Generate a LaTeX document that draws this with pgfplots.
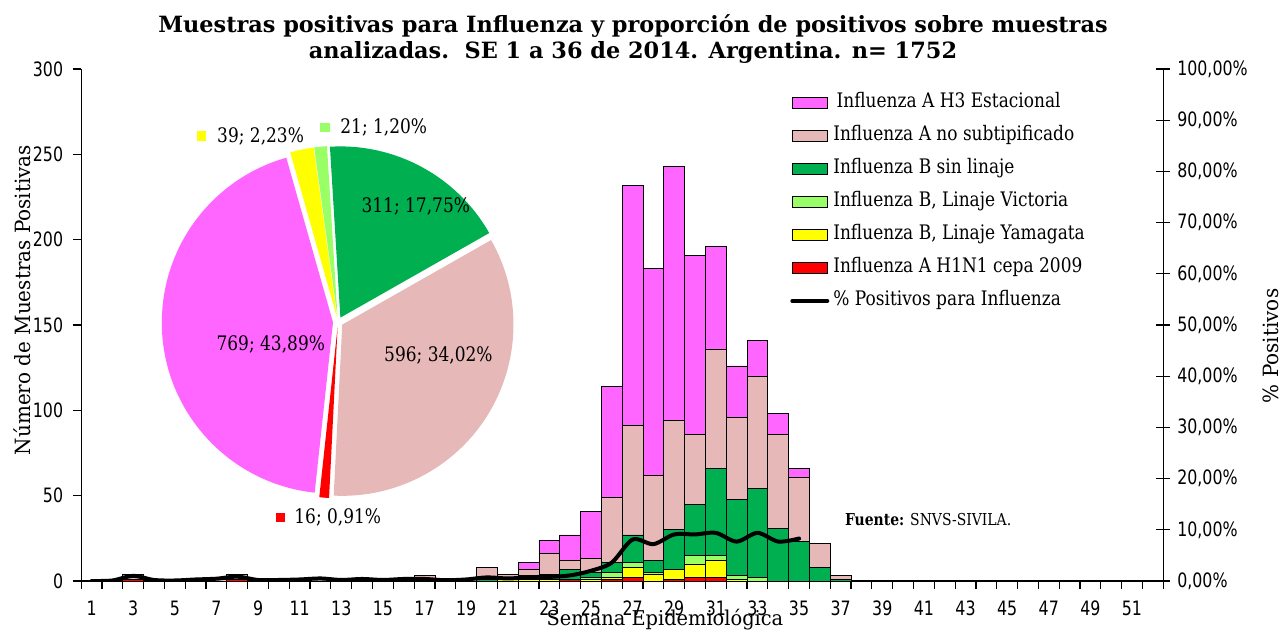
\documentclass[border=0pt]{standalone}
\usepackage{pgfplots}
\pgfplotsset{compat=1.18}
\usepackage{pgfplotstable}
\usepackage{fontspec}
\setmainfont{DejaVu Serif}[FakeStretch=0.85]
\newfontfamily\labf{DejaVu Serif}[FakeStretch=0.95]
\newfontfamily\ticksf{DejaVu Sans}[FakeStretch=0.8]
\newfontfamily\titlef{DejaVu Serif}

\definecolor{cH3}{HTML}{FF66FF}
\definecolor{cNS}{HTML}{E6B8B7}
\definecolor{cB}{HTML}{00B050}
\definecolor{cVic}{HTML}{99FF66}
\definecolor{cYam}{HTML}{FFFF00}
\definecolor{cH1}{HTML}{FF0000}

% weekly counts per type
\pgfplotstableread{
week h1 yam vic b ns h3
1 0 0 0 0 0 0
2 0 0 0 0 0 0
3 1 0 0 0 3 0
4 0 0 0 0 0 0
5 0 0 0 0 0 0
6 0 0 0 0 1 0
7 0 0 0 0 1 0
8 1 0 0 0 3 0
9 0 0 0 0 0 0
10 0 0 0 0 0 0
11 0 0 0 0 0 0
12 0 0 0 0 1 0
13 0 0 0 0 0 0
14 0 0 0 0 1 0
15 0 0 0 0 0 0
16 0 0 0 0 1 0
17 0 0 0 0 3 0
18 0 0 0 0 0 0
19 0 0 0 0 1 0
20 0 0 0 1 7 0
21 0 1 0 0 3 0
22 0 1 0 2 4 4
23 0 1 0 3 12 8
24 1 0 0 6 5 15
25 0 1 1 3 8 28
26 1 1 3 6 38 65
27 2 6 3 16 64 141
28 0 4 1 7 50 121
29 1 6 0 23 64 149
30 2 8 5 30 41 105
31 2 10 3 51 70 60
32 0 1 2 45 48 30
33 0 0 2 52 66 21
34 0 0 0 31 55 12
35 0 0 0 23 38 5
36 0 0 0 8 14 0
37 0 0 0 1 2 0
}\flu

% percent positives
\pgfplotstableread{
week pct
1 0.0
2 0.1
3 1.0
4 0.2
5 0.1
6 0.3
7 0.45
8 0.85
9 0.2
10 0.2
11 0.3
12 0.5
13 0.2
14 0.4
15 0.2
16 0.4
17 0.4
18 0.15
19 0.3
20 0.7
21 0.5
22 0.7
23 0.8
24 1.1
25 2.0
26 3.6
27 8.1
28 7.2
29 9.1
30 9.1
31 9.4
32 7.7
33 9.4
34 7.7
35 8.3
}\pos

\pgfplotsset{
  barleg/.style={legend image code/.code={\draw[##1, draw=black, line width=0.6pt] (0pt,-2.6pt) rectangle (17.5pt,2.6pt);}},
  lineleg/.style={legend image code/.code={\draw[##1] (0pt,0pt) -- (17.5pt,0pt);}},
}

\begin{document}
\begin{tikzpicture}
\begin{axis}[
  at={(40.6pt,26.5pt)}, anchor=south west,
  scale only axis, width=541pt, height=256pt,
  ybar stacked, bar width=1,
  xmin=0.5, xmax=52.5, ymin=0, ymax=300,
  axis x line*=bottom, axis y line*=left,
  axis line style={-, line width=0.6pt},
  xtick={1,3,...,51}, minor xtick={0.5,1.5,...,52.5},
  ytick={0,50,...,300},
  tick align=outside,
  major x tick style={draw=none},
  minor tick length=4pt, major tick length=4pt,
  tick style={black, line width=0.6pt},
  /pgf/number format/assume math mode=true,
  ticklabel style={font=\ticksf\fontsize{9.9}{11}\selectfont},
  xticklabel style={yshift=-2.5pt},
  yticklabel style={xshift=-1.5pt},
]
\addplot[fill=cH1, draw=black, line width=0.4pt] table[x=week, y=h1] {\flu};
\addplot[fill=cYam, draw=black, line width=0.4pt] table[x=week, y=yam] {\flu};
\addplot[fill=cVic, draw=black, line width=0.4pt] table[x=week, y=vic] {\flu};
\addplot[fill=cB, draw=black, line width=0.4pt] table[x=week, y=b] {\flu};
\addplot[fill=cNS, draw=black, line width=0.4pt] table[x=week, y=ns] {\flu};
\addplot[fill=cH3, draw=black, line width=0.4pt] table[x=week, y=h3] {\flu};
\end{axis}

\begin{axis}[
  at={(40.6pt,26.5pt)}, anchor=south west,
  scale only axis, width=541pt, height=256pt,
  xmin=0.5, xmax=52.5, ymin=0, ymax=100,
  axis y line*=right, axis x line=none,
  axis line style={-, line width=0.6pt},
  ytick={0,10,...,100},
  yticklabels={{0,00\%},{10,00\%},{20,00\%},{30,00\%},{40,00\%},{50,00\%},{60,00\%},{70,00\%},{80,00\%},{90,00\%},{100,00\%}},
  ytick align=center, major tick length=7pt,
  tick style={black, line width=0.6pt},
  ticklabel style={font=\ticksf\fontsize{9.9}{11}\selectfont},
  legend style={at={(0.655,0.951)}, anchor=north west, draw=none, fill=none,
    inner sep=0pt, font=\fontsize{10}{11}\selectfont, row sep=8pt, column sep=2pt,
    nodes={inner sep=0pt, text height=6.5pt, text depth=2pt}},
  legend cell align=left,
]
\addlegendimage{barleg, fill=cH3}\addlegendentry{\,Influenza A H3 Estacional}
\addlegendimage{barleg, fill=cNS}\addlegendentry{Influenza A no subtipificado}
\addlegendimage{barleg, fill=cB}\addlegendentry{Influenza B sin linaje}
\addlegendimage{barleg, fill=cVic}\addlegendentry{Influenza B, Linaje Victoria}
\addlegendimage{barleg, fill=cYam}\addlegendentry{Influenza B, Linaje Yamagata}
\addlegendimage{barleg, fill=cH1}\addlegendentry{Influenza A H1N1 cepa 2009}
\addplot[black, line width=2pt, smooth, line cap=round, line join=round, lineleg]
  table[x=week, y=pct] {\pos};
\addlegendentry{\% Positivos para Influenza}
\end{axis}

% pie of totals (1752 samples)
\begin{scope}[shift={(169pt,156pt)}]
\foreach \v/\c [remember=\e as \s (initially 93.5), evaluate=\v as \e using {\s-\v/1752*360}] in {311/cB, 596/cNS, 16/cH1, 769/cH3, 39/cYam, 21/cVic} {
  \pgfmathsetmacro\m{(\s+\e)/2}
  \fill[\c, shift={(\m:2.5pt)}] (0,0) -- (\s:85.6pt) arc[start angle=\s, end angle=\e, radius=85.6pt] -- cycle;
}
\end{scope}
\begin{scope}[font=\fontsize{10}{11}\selectfont]
\node at (207.9pt,213.7pt) {311; 17,75\%};
\node at (219.2pt,139.5pt) {596; 34,02\%};
\node at (135.4pt,144.9pt) {769; 43,89\%};
\fill[cYam] (98.6pt,246.7pt) rectangle +(4.6pt,4.6pt);
\node[anchor=west, inner sep=0pt] at (108.4pt,249pt) {39; 2,23\%};
\fill[cVic] (160.2pt,251.1pt) rectangle +(4.6pt,4.6pt);
\node[anchor=west, inner sep=0pt] at (170pt,253.4pt) {21; 1,20\%};
\fill[cH1] (138.1pt,56.1pt) rectangle +(4.6pt,4.6pt);
\node[anchor=west, inner sep=0pt] at (147pt,58.4pt) {16; 0,91\%};
\end{scope}

\node[anchor=west, font=\fontsize{8.2}{9}\selectfont] at (419pt,57pt) {\textbf{Fuente:} SNVS-SIVILA.};
\node[align=center, font=\titlef\bfseries\fontsize{11.2}{13}\selectfont] at (316.5pt,297.5pt)
  {Muestras positivas para Influenza y proporción de positivos sobre muestras\\analizadas.\ \ SE 1 a 36 de 2014. Argentina. n= 1752};
\node[rotate=90, font=\labf\fontsize{10.5}{12}\selectfont] at (11pt,167pt) {Número de Muestras Positivas};
\node[rotate=90, font=\labf\fontsize{10.5}{12}\selectfont] at (635.5pt,144pt) {\% Positivos};
\node[anchor=base, font=\labf\fontsize{10.2}{12}\selectfont] at (332.5pt,4.3pt) {Semana Epidemiológica};

\pgfresetboundingbox
\path (0,0) rectangle (642pt,317pt);
\end{tikzpicture}
\end{document}
